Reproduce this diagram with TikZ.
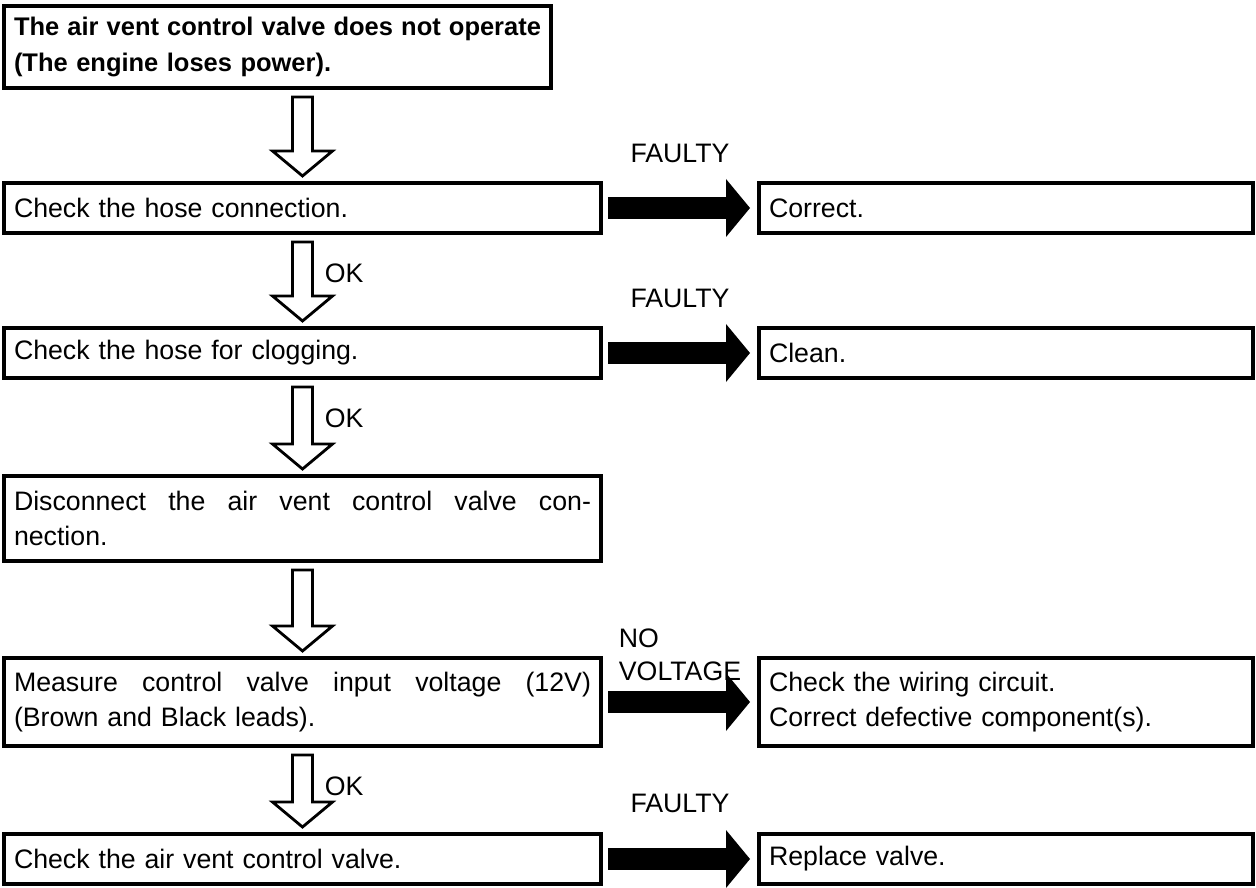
\documentclass[tikz,border=0pt]{standalone}
\usepackage{fontspec}
\setmainfont{Liberation Sans}
\usetikzlibrary{positioning,arrows.meta,calc}
\newcommand{\fullline}[1]{\makebox[\hsize][s]{\spaceskip=0.28em plus 1fil #1}}

\begin{document}
\begin{tikzpicture}[
  box/.style={draw, line width=1.8pt, outer sep=0pt, anchor=north west, align=left, inner xsep=0.2cm, inner ysep=0pt, font=\fontsize{15.2}{20}\selectfont},
  wide/.style={box, text width=11.54cm},
  side/.style={box, text width=9.48cm},
  hollow/.style={draw, line width=1.6pt, line join=miter, fill=white},
  fault/.style={line width=0.44cm, -{Triangle[length=0.48cm, width=1.16cm, line width=0pt]}, shorten <=0.14cm, shorten >=0.18cm},
  lab/.style={font=\fontsize{15.2}{19}\selectfont, inner sep=0pt, align=left}
]
\useasboundingbox (0,0) rectangle (25.12,-17.76);

% left column
\node[box, text width=10.54cm, minimum height=1.64cm, font=\fontsize{14.5}{20}\selectfont\bfseries] (start) at (0.08,-0.12)
  {\fullline{The air vent control valve does not operate}\\(The engine loses power).};
\node[wide, minimum height=1cm, below=1.9cm of start.south west, anchor=north west] (hose) {Check the hose connection.};
\node[wide, minimum height=1cm, below=1.9cm of hose.south west, anchor=north west] (clog) {Check the hose for clogging.};
\node[wide, minimum height=1.7cm, below=1.96cm of clog.south west, anchor=north west] (disc)
  {\fullline{Disconnect the air vent control valve con-}\\nection.};
\node[wide, minimum height=1.76cm, below=1.94cm of disc.south west, anchor=north west] (volt)
  {\fullline{Measure control valve input voltage (12V)}\\(Brown and Black leads).};
\node[wide, minimum height=1cm, below=1.76cm of volt.south west, anchor=north west] (valve) {Check the air vent control valve.};

% right column
\node[side, minimum height=1cm, right=3.16cm of hose] (correct) {Correct.};
\node[side, minimum height=1cm, right=3.16cm of clog] (clean) {Clean.};
\node[side, minimum height=1.76cm, right=3.16cm of volt] (wiring) {Check the wiring circuit.\\Correct defective component(s).};
\node[side, minimum height=1cm, right=3.16cm of valve] (replace) {Replace valve.};

% hollow arrows down the column
\foreach \src/\dst in {start/hose, hose/clog, clog/disc, disc/volt, volt/valve}
  \draw[hollow] ([xshift=-0.2cm, yshift=-0.18cm]\dst.north |- \src.south) -- ([xshift=-0.2cm, yshift=0.64cm]\dst.north) -- ++(-0.4,0)
    -- ([yshift=0.14cm]\dst.north) -- ++(0.6,0.5) -- ++(-0.4,0) -- ([xshift=0.2cm, yshift=-0.18cm]\dst.north |- \src.south) -- cycle;

\node[lab, anchor=west] (ok1) at ([xshift=0.44cm, yshift=-0.8cm]clog.north |- hose.south) {OK};
\node[lab, anchor=west] (ok2) at ([xshift=0.44cm, yshift=-0.8cm]disc.north |- clog.south) {OK};
\node[lab, anchor=west] (ok3) at ([xshift=0.44cm, yshift=-0.8cm]valve.north |- volt.south) {OK};

% black arrows to the right
\draw[fault] (hose) -- node[lab, above=0.68cm] (f1) {FAULTY} (correct);
\draw[fault] (clog) -- node[lab, above=0.68cm] (f2) {FAULTY} (clean);
\draw[fault] (volt) -- node[lab, above=0.2cm] (f3) {NO\\VOLTAGE} (wiring);
\draw[fault] (valve) -- node[lab, above=0.7cm] (f4) {FAULTY} (replace);
\end{tikzpicture}
\end{document}
